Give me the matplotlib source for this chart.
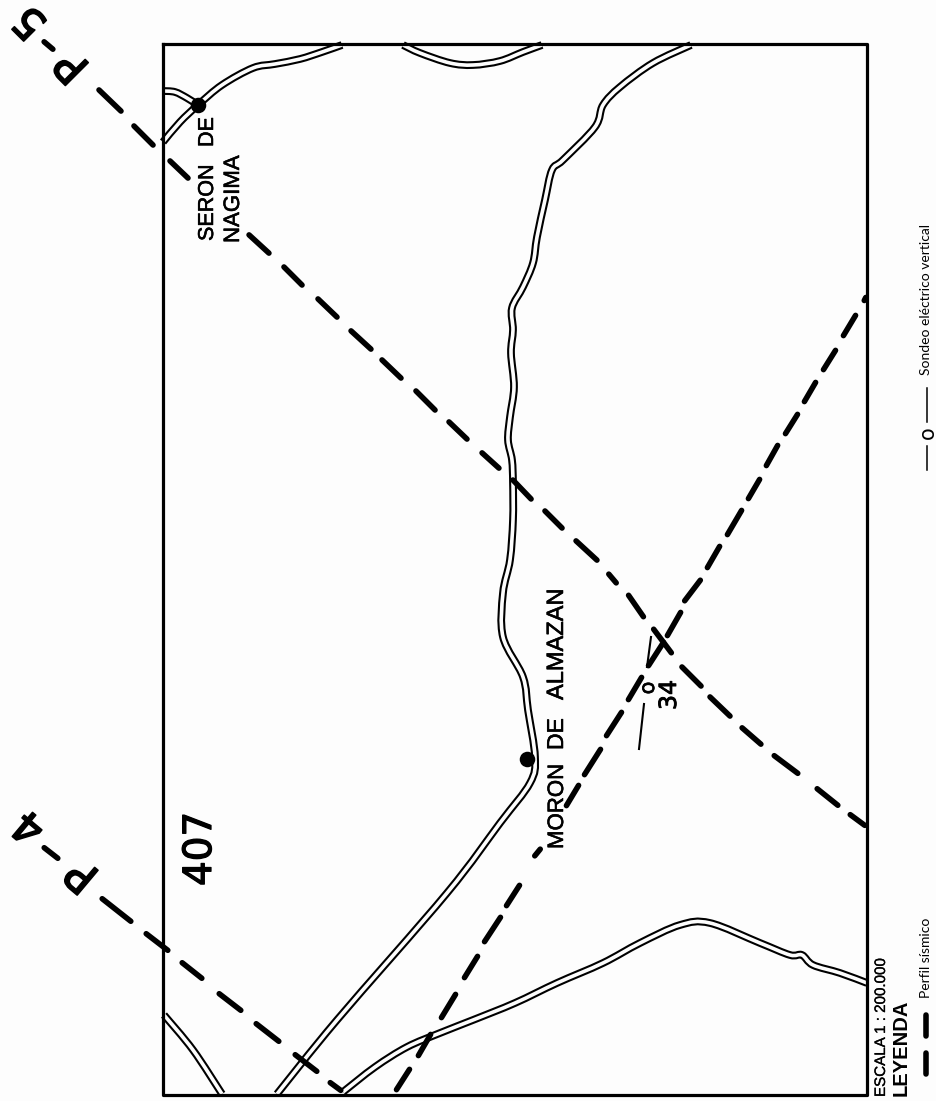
import math

import matplotlib
matplotlib.use("Agg")
import matplotlib.pyplot as plt
import matplotlib.patheffects as pe
from matplotlib.patches import PathPatch
from matplotlib.path import Path

# =========================
# DATA (traced in image pixels)
# =========================

frame_x = [163, 867, 867, 163, 163]
frame_y = [44, 44, 1095, 1095, 44]

# double-line roads, centre lines
road_seron_top = [(163, 142), (180, 122), (198, 105), (222, 85), (253, 68), (275, 64), (300, 59), (322, 52), (342, 45)]
road_seron_branch = [(163, 91), (175, 92), (187, 98), (198, 105)]
road_top_dip = [(403, 45), (420, 53), (450, 63), (473, 65), (500, 61), (523, 52), (542, 45)]
road_main = [(691, 45), (653, 63), (620, 87), (603, 105), (595, 127), (563, 160), (552, 170),
             (545, 200), (537, 237), (533, 263), (523, 287), (512, 308), (513, 330), (511, 353),
             (514, 387), (510, 417), (508, 440), (512, 460), (513, 483), (513, 520), (510, 560),
             (503, 593), (503, 637), (523, 677), (528, 710), (535, 757), (530, 783), (500, 823),
             (447, 893), (337, 1020), (277, 1094)]
road_bottom = [(343, 1092), (375, 1067), (407, 1047), (440, 1033), (473, 1020), (515, 1003),
               (557, 983), (603, 963), (640, 943), (680, 925), (710, 923), (760, 943),
               (790, 955), (802, 955), (813, 965), (840, 973), (867, 983)]
road_corner = [(164, 1015), (193, 1050), (222, 1094)]
roads = [road_seron_top, road_seron_branch, road_top_dip, road_main, road_bottom, road_corner]

# dashed profiles, one (x0, y0, x1, y1) per dash
profile_p5 = [(97, 88, 123, 113), (132, 124, 155, 147), (168, 159, 190, 180), (247, 233, 271, 255),
              (282, 265, 304, 287), (316, 297, 339, 319), (349, 329, 373, 351), (380, 358, 403, 380),
              (414, 389, 437, 412), (447, 420, 469, 441), (480, 451, 501, 470), (511, 478, 533, 501),
              (543, 509, 564, 530), (574, 539, 599, 562), (607, 572, 618, 585), (627, 593, 645, 619),
              (652, 627, 673, 655), (680, 665, 703, 688), (708, 695, 732, 718), (740, 726, 763, 746),
              (772, 754, 800, 775), (815, 787, 840, 807), (848, 813, 867, 827)]
profile_p4 = [(100, 897, 133, 923), (144, 932, 170, 952), (180, 961, 204, 980), (217, 992, 243, 1012),
              (254, 1022, 281, 1043), (293, 1053, 319, 1073), (328, 1081, 343, 1092)]
profile_cross = [(863, 303, 867, 295), (842, 338, 857, 313), (822, 372, 837, 348), (803, 404, 817, 380),
                 (784, 436, 799, 412), (765, 468, 779, 443), (747, 501, 761, 477), (726, 537, 743, 508),
                 (706, 570, 721, 544), (683, 603, 702, 578), (666, 638, 682, 610), (647, 668, 665, 640),
                 (627, 702, 643, 675), (605, 738, 623, 710), (583, 777, 602, 747), (565, 808, 580, 783),
                 (533, 858, 542, 847), (505, 908, 521, 883), (483, 944, 502, 915), (463, 980, 479, 954),
                 (440, 1020, 457, 992), (417, 1058, 432, 1032), (395, 1092, 411, 1067)]
label_hyphens = [(42, 40, 55, 51), (42, 846, 60, 860)]

# thin lines of sounding 34
sounding_lines = [(651, 637, 647, 667), (644, 704, 639, 749)]

town_x = [198, 527]
town_y = [105, 759]

legend_dashes = [(926, 1050, 926, 1077), (926, 1012, 926, 1039)]
legend_thin = [(927, 388, 927, 422), (927, 446, 927, 470)]

PAPER = "#fdfdfd"


def smooth_path(points):
    """Catmull-Rom through the traced points, as a bezier path."""
    verts = [points[0]]
    codes = [Path.MOVETO]
    n = len(points)
    for i in range(n - 1):
        p0 = points[max(i - 1, 0)]
        p1 = points[i]
        p2 = points[i + 1]
        p3 = points[min(i + 2, n - 1)]
        c1 = (p1[0] + (p2[0] - p0[0]) / 6, p1[1] + (p2[1] - p0[1]) / 6)
        c2 = (p2[0] - (p3[0] - p1[0]) / 6, p2[1] - (p3[1] - p1[1]) / 6)
        verts += [c1, c2, p2]
        codes += [Path.CURVE4, Path.CURVE4, Path.CURVE4]
    return Path(verts, codes)


def draw_dash(ax, dash, lw):
    # traced ends include the round cap, so pull them in by half the width
    x0, y0, x1, y1 = dash
    length = math.hypot(x1 - x0, y1 - y0)
    cap = lw * 100 / 72 / 2
    ux, uy = (x1 - x0) / length * cap, (y1 - y0) / length * cap
    ax.plot([x0 + ux, x1 - ux], [y0 + uy, y1 - uy], color="black", lw=lw,
            solid_capstyle="round", zorder=6)


def label(ax, x, y, s, size, family="Liberation Sans", stroke=0.0, **kw):
    t = ax.text(x, y, s, fontsize=size, family=family, rotation=kw.pop("rotation", 90),
                ha=kw.pop("ha", "left"), va=kw.pop("va", "baseline"),
                rotation_mode="anchor", color="black", zorder=8, **kw)
    if stroke:
        t.set_path_effects([pe.withStroke(linewidth=stroke, foreground="black")])
    return t


# =========================
# FIGURE
# =========================

fig = plt.figure(figsize=(9.37, 11.01), dpi=100, facecolor=PAPER)
ax = fig.add_axes([0, 0, 1, 1])
ax.set_xlim(0, 937)
ax.set_ylim(1101, 0)
ax.axis("off")

for road in roads:
    path = smooth_path(road)
    ax.add_patch(PathPatch(path, fc="none", ec="black", lw=5.6, capstyle="butt", joinstyle="round", zorder=2))
    ax.add_patch(PathPatch(path, fc="none", ec=PAPER, lw=2.6, capstyle="butt", joinstyle="round", zorder=3))

ax.plot(frame_x, frame_y, color="black", lw=2.3, zorder=5)

for dash in profile_p5 + profile_p4 + profile_cross + label_hyphens + legend_dashes:
    draw_dash(ax, dash, 4.0)

for x0, y0, x1, y1 in sounding_lines:
    ax.plot([x0, x1], [y0, y1], color="black", lw=1.5, zorder=6)
for x0, y0, x1, y1 in legend_thin:
    ax.plot([x0, x1], [y0, y1], color="black", lw=1.1, zorder=6)

ax.scatter(town_x, town_y, s=125, color="black", zorder=7, linewidths=0)

# profile labels
dv = "DejaVu Sans"
label(ax, 73, 65, "P", 32, dv, 1.2, rotation=135, ha="center", va="center")
label(ax, 31, 21, "5", 31, dv, 1.2, rotation=135, ha="center", va="center")
label(ax, 83, 874, "P", 32, dv, 1.2, rotation=140, ha="center", va="center")
label(ax, 30, 826, "4", 31, dv, 1.2, rotation=140, ha="center", va="center")

# map labels, everything reads bottom to top
label(ax, 213, 241, "SERON", 15.5, stroke=0.4)
label(ax, 213, 147, "DE", 15.5, stroke=0.4)
label(ax, 239, 243, "NAGIMA", 16, stroke=0.4)
label(ax, 563, 849, "MORON", 16, stroke=0.4)
label(ax, 563, 750, "DE", 16.5, stroke=0.4)
label(ax, 563, 700, "ALMAZAN", 17, stroke=0.4)
label(ax, 211, 886, "407", 28, dv, 0.9)
label(ax, 654, 688, "o", 15, dv, 0.5, ha="center")
label(ax, 676, 695, "34", 17, dv, 0.6, ha="center")

# legend
label(ax, 885, 1097, "ESCALA 1 : 200.000", 10.9, stroke=0.2)
label(ax, 907, 1096, "LEYENDA", 14.5, fontweight="bold")
label(ax, 930, 998, "Perfil sísmico", 10, "Lato")
label(ax, 930, 375, "Sondeo eléctrico vertical", 10, "Lato")
label(ax, 928, 433, "o", 15, dv, ha="center", va="center")

fig.savefig("out.png", dpi=100, facecolor=fig.get_facecolor())
plt.close(fig)
